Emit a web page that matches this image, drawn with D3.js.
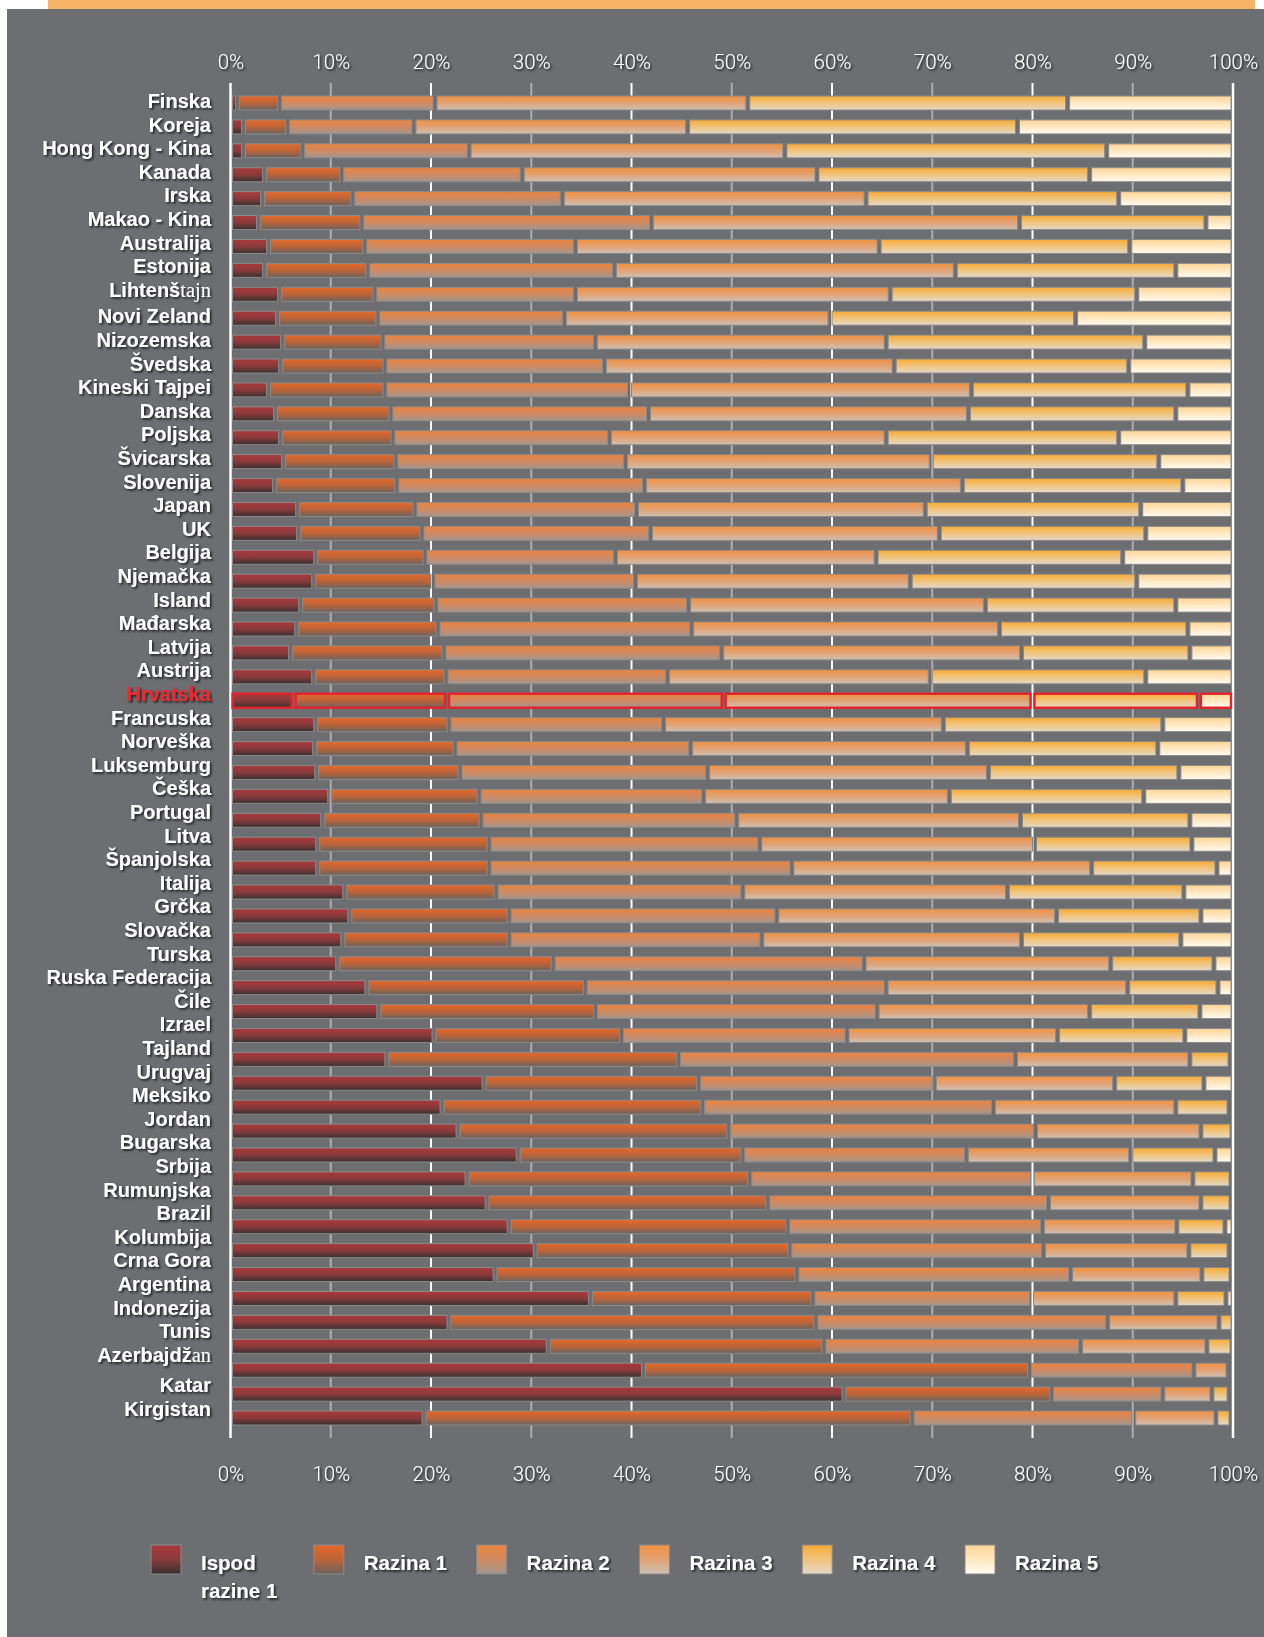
<!DOCTYPE html>
<html>
<head>
<meta charset="utf-8">
<script src="https://cdn.jsdelivr.net/npm/d3@7"></script>
<style>
  body { margin: 0; background: #ffffff; }
  svg { display: block; }
</style>
</head>
<body>
<div id="chart"></div>
<script>

// PISA reading levels, % of students per level
var countries = ['Finska', 'Koreja', 'Hong Kong - Kina', 'Kanada', 'Irska', 'Makao - Kina', 'Australija', 'Estonija',
  'Lihtenštajn', 'Novi Zeland', 'Nizozemska', 'Švedska', 'Kineski Tajpei', 'Danska', 'Poljska', 'Švicarska',
  'Slovenija', 'Japan', 'UK', 'Belgija', 'Njemačka', 'Island', 'Mađarska', 'Latvija', 'Austrija', 'Hrvatska',
  'Francuska', 'Norveška', 'Luksemburg', 'Češka', 'Portugal', 'Litva', 'Španjolska', 'Italija', 'Grčka',
  'Slovačka', 'Turska', 'Ruska Federacija', 'Čile', 'Izrael', 'Tajland', 'Urugvaj', 'Meksiko', 'Jordan',
  'Bugarska', 'Srbija', 'Rumunjska', 'Brazil', 'Kolumbija', 'Crna Gora', 'Argentina', 'Indonezija', 'Tunis',
  'Azerbajdžan', 'Katar', 'Kirgistan'];

var ispod = [0.7, 1.3, 1.3, 3.4, 3.2, 2.8, 3.8, 3.4, 4.9, 4.7,
  5.2, 5.0, 3.8, 4.5, 5.0, 5.3, 4.4, 6.7, 6.8, 8.5,
  8.3, 7.0, 6.6, 6.0, 8.3, 6.3, 8.5, 8.4, 8.6, 9.9,
  9.2, 8.7, 8.7, 11.4, 11.9, 11.2, 10.7, 13.6, 14.8, 20.3,
  15.6, 25.3, 21.1, 22.7, 28.7, 23.6, 25.6, 27.8, 30.4, 26.4,
  35.9, 21.8, 31.7, 41.2, 61.2, 19.3];

var razina1 = [4.2, 4.4, 5.9, 7.7, 9.0, 10.3, 9.6, 10.3, 9.5, 10.0,
  10.0, 10.4, 11.6, 11.5, 11.2, 11.2, 12.2, 11.7, 12.3, 10.9,
  11.9, 13.5, 14.1, 15.3, 13.2, 15.3, 13.3, 14.0, 14.3, 14.9,
  15.8, 17.1, 17.1, 15.1, 15.9, 16.6, 21.5, 21.8, 21.6, 18.7,
  29.1, 21.4, 26.0, 27.0, 22.4, 28.2, 28.0, 27.8, 25.4, 30.1,
  22.2, 36.6, 27.5, 38.5, 20.7, 48.7];

var razina2 = [15.5, 12.6, 16.6, 18.0, 20.9, 28.9, 21.0, 24.6, 20.0, 18.6,
  21.2, 21.9, 24.4, 25.7, 21.6, 22.9, 24.7, 22.1, 22.8, 19.0,
  20.2, 25.2, 25.3, 27.7, 22.1, 27.6, 21.4, 23.5, 24.7, 22.4,
  25.5, 27.0, 30.2, 24.6, 26.7, 25.2, 31.0, 30.0, 28.1, 22.5,
  33.6, 23.5, 29.0, 30.6, 22.3, 28.2, 28.0, 25.4, 25.3, 27.3,
  21.8, 29.1, 25.6, 16.4, 11.1, 22.1];

var razina3 = [31.2, 27.3, 31.5, 29.4, 30.3, 36.7, 30.3, 34.0, 31.4, 26.5,
  29.0, 28.9, 34.1, 31.9, 27.6, 30.5, 31.7, 28.8, 28.8, 26.0,
  27.4, 29.6, 30.7, 29.9, 26.2, 30.8, 27.9, 27.6, 28.0, 24.5,
  28.3, 27.4, 29.9, 26.4, 27.9, 25.9, 24.6, 24.1, 21.2, 21.0,
  17.4, 18.0, 18.2, 16.5, 16.4, 16.0, 15.2, 13.4, 14.5, 13.1,
  14.4, 11.1, 12.6, 3.4, 4.9, 8.2];

var razina4 = [31.9, 32.9, 32.1, 27.2, 25.2, 18.6, 25.0, 22.0, 24.6, 24.5,
  25.8, 23.4, 21.6, 20.7, 23.2, 22.7, 22.0, 21.5, 20.6, 24.6,
  22.6, 19.0, 18.8, 16.8, 21.5, 16.6, 21.9, 19.0, 19.0, 19.4,
  16.9, 15.7, 12.5, 17.6, 14.4, 15.9, 10.3, 9.0, 11.0, 12.7,
  4.0, 8.9, 5.3, 3.1, 8.4, 3.8, 3.0, 4.8, 4.0, 2.9,
  5.0, 1.4, 2.5, 0.4, 1.7, 1.5];

var razina5 = [16.5, 21.5, 12.6, 14.3, 11.4, 2.7, 10.3, 5.7, 9.6, 15.7,
  8.8, 10.4, 4.5, 5.7, 11.4, 7.4, 5.0, 9.2, 8.7, 11.0,
  9.6, 5.7, 4.5, 4.3, 8.7, 3.4, 7.0, 7.5, 5.4, 8.9,
  4.3, 4.1, 1.6, 4.9, 3.2, 5.2, 1.9, 1.5, 3.3, 4.8,
  0.3, 2.9, 0.4, 0.1, 1.8, 0.2, 0.2, 0.8, 0.4, 0.2,
  0.7, 0.0, 0.1, 0.1, 0.4, 0.2];

var levelKeys = ['ispod', 'razina1', 'razina2', 'razina3', 'razina4', 'razina5'];
var legendLabels = [['Ispod', 'razine 1'], ['Razina 1'], ['Razina 2'], ['Razina 3'], ['Razina 4'], ['Razina 5']];
var tickValues = [0, 10, 20, 30, 40, 50, 60, 70, 80, 90, 100];
var highlight = 'Hrvatska';

// top / middle / bottom colour of each level's vertical gradient
var levelColors = [
  ['#aa393b', '#8a3a3b', '#383131'],
  ['#e4682a', '#bd6438', '#6a635f'],
  ['#ea843e', '#d08a62', '#a2958d'],
  ['#f19241', '#e2a274', '#cdc0b3'],
  ['#f8aa34', '#f1c47c', '#e3d8c8'],
  ['#fed596', '#ffe8c2', '#fffbf3']
];

// the original file had a font glitch: tail of these names came out in a serif face
var serifTail = { 'Lihtenštajn': 4, 'Azerbajdžan': 2 };

function renderChart(bindTag) {

  var svg = d3.select(bindTag).append('svg')
    .attr('width', 1264)
    .attr('height', 1637);

  var defs = svg.append('defs');

  var shadow = defs.append('filter')
    .attr('id', 'textShadow')
    .attr('x', '-10%').attr('y', '-30%')
    .attr('width', '130%').attr('height', '180%');
  shadow.append('feDropShadow')
    .attr('dx', 1.6).attr('dy', 1.6)
    .attr('stdDeviation', 1.1)
    .attr('flood-color', '#000000')
    .attr('flood-opacity', 0.75);

  levelKeys.forEach(function (key, i) {
    var grad = defs.append('linearGradient')
      .attr('id', 'grad' + i)
      .attr('x1', 0).attr('y1', 0).attr('x2', 0).attr('y2', 1);
    grad.append('stop').attr('offset', '0%').attr('stop-color', levelColors[i][0]);
    grad.append('stop').attr('offset', '50%').attr('stop-color', levelColors[i][1]);
    grad.append('stop').attr('offset', '100%').attr('stop-color', levelColors[i][2]);
  });

  // background panel + orange strip on top
  svg.append('rect')
    .attr('x', 7).attr('y', 9)
    .attr('width', 1257).attr('height', 1628)
    .style('fill', '#6d6e72');
  svg.append('rect')
    .attr('x', 48).attr('y', 0)
    .attr('width', 1207).attr('height', 9)
    .style('fill', '#f8b464');

  var x = d3.scaleLinear()
    .domain([0, 100])
    .range([230.5, 1233]);

  var y = d3.scaleBand()
    .domain(countries)
    .range([96, 1425])
    .paddingInner(0.414)
    .paddingOuter(0);

  // gridlines
  svg.append('g').selectAll('line')
    .data(tickValues)
    .enter().append('line')
    .attr('x1', function (d) { return x(d); })
    .attr('x2', function (d) { return x(d); })
    .attr('y1', 83)
    .attr('y2', 1438)
    .style('stroke', function (d) {
      if (d % 20 === 0) return '#ffffff';
      return '#aeaeb2';
    })
    .style('stroke-width', function (d) { return (d === 0 || d === 100) ? 2.5 : 2; });

  // stacked bars
  var rows = countries.map(function (c, i) {
    return {
      country: c,
      ispod: ispod[i],
      razina1: razina1[i],
      razina2: razina2[i],
      razina3: razina3[i],
      razina4: razina4[i],
      razina5: razina5[i]
    };
  });

  var stacked = d3.stack().keys(levelKeys)(rows);
  var inset = 2;

  var layers = svg.append('g').selectAll('g')
    .data(stacked)
    .enter().append('g')
    .attr('fill', function (d, i) { return 'url(#grad' + i + ')'; });

  layers.selectAll('rect')
    .data(function (d) {
      return d.filter(function (p) { return x(p[1]) - x(p[0]) - 2 * inset > 0.5; });
    })
    .enter().append('rect')
    .attr('x', function (d) { return x(d[0]) + inset; })
    .attr('width', function (d) { return x(d[1]) - x(d[0]) - 2 * inset; })
    .attr('y', function (d) { return y(d.data.country); })
    .attr('height', y.bandwidth())
    .style('stroke', function (d) { return d.data.country === highlight ? '#e5232b' : '#8a8a8a'; })
    .style('stroke-width', function (d) { return d.data.country === highlight ? 2.4 : 1; });

  // axes (labels only)
  var topAxis = svg.append('g')
    .attr('transform', 'translate(0,68.5)')
    .call(d3.axisTop(x).tickValues(tickValues).tickSize(0).tickPadding(0)
      .tickFormat(function (d) { return d + '%'; }));
  var bottomAxis = svg.append('g')
    .attr('transform', 'translate(0,1466)')
    .call(d3.axisBottom(x).tickValues(tickValues).tickSize(0).tickPadding(0)
      .tickFormat(function (d) { return d + '%'; }));

  [topAxis, bottomAxis].forEach(function (axis) {
    axis.select('.domain').remove();
    axis.selectAll('text')
      .style('font-family', 'Roboto, Lato, "Liberation Sans", sans-serif')
      .style('font-weight', 300)
      .style('font-size', '20.5px')
      .style('fill', '#ffffff')
      .attr('filter', 'url(#textShadow)');
  });

  // country labels -- in the original they drift a bit against the bars
  var labelTop = 101, labelStep = 23.6;
  function labelY(i) {
    var extra = 0;
    if (i > 8) extra += 3;   // gap after Lihtenštajn
    if (i > 53) extra += 7;  // gap after Azerbajdžan
    return labelTop + labelStep * i + extra;
  }

  var labels = svg.append('g').selectAll('text')
    .data(countries)
    .enter().append('text')
    .attr('x', 211)
    .attr('y', function (d, i) { return labelY(i); })
    .attr('dy', '0.35em')
    .attr('text-anchor', 'end')
    .attr('filter', 'url(#textShadow)')
    .style('font-family', '"Liberation Sans", Arial, sans-serif')
    .style('font-weight', 'bold')
    .style('font-size', '20px')
    .style('fill', function (d) { return d === highlight ? '#ea2b2f' : '#ffffff'; });

  labels.each(function (d) {
    var text = d3.select(this);
    var n = serifTail[d];
    if (n) {
      text.append('tspan').text(d.slice(0, d.length - n));
      text.append('tspan')
        .style('font-family', '"Liberation Serif", "DejaVu Serif", serif')
        .style('font-weight', 'normal')
        .style('font-size', '20.5px')
        .text(d.slice(d.length - n));
    } else {
      text.text(d);
    }
  });

  // legend
  var legendX = d3.scaleLinear()
    .domain([0, levelKeys.length - 1])
    .range([151, 965]);

  var legend = svg.append('g').selectAll('g')
    .data(legendLabels)
    .enter().append('g')
    .attr('transform', function (d, i) { return 'translate(' + legendX(i) + ',1545)'; });

  legend.append('rect')
    .attr('width', 30)
    .attr('height', 29)
    .attr('fill', function (d, i) { return 'url(#grad' + i + ')'; })
    .style('stroke', '#8a8a8a')
    .style('stroke-width', 1);

  legend.each(function (d) {
    var g = d3.select(this);
    d.forEach(function (line, j) {
      g.append('text')
        .attr('x', 50)
        .attr('y', 17.7 + j * 28.3)
        .attr('dy', '0.35em')
        .attr('filter', 'url(#textShadow)')
        .style('font-family', '"Liberation Sans", Arial, sans-serif')
        .style('font-weight', 'bold')
        .style('font-size', '20.5px')
        .style('fill', '#ffffff')
        .text(line);
    });
  });
}

renderChart('#chart');
</script>
</body>
</html>
